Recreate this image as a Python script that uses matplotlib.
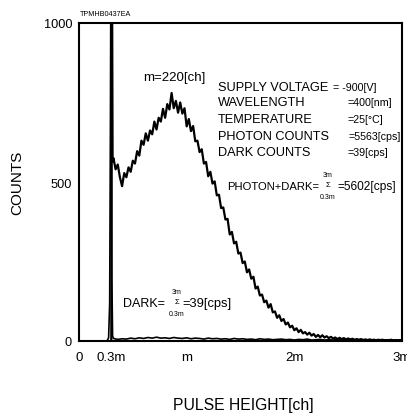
import numpy as np
import matplotlib
matplotlib.use("Agg")
import matplotlib.pyplot as plt
from matplotlib.ticker import FixedLocator

plt.rcParams['font.family'] = ['Liberation Sans', 'DejaVu Sans']

# ---- data (channel in units of m, counts) ----
spike_x = [0.26, 0.275, 0.285, 0.292, 0.298, 0.305, 0.312]
spike_y = [0, 10, 120, 700, 1400, 200, 15]

photon_start_x = [0.300, 0.305, 0.312]
photon_start_y = [0, 1400, 565]

photon_x = np.round(np.arange(0.32, 3.001, 0.02), 2)
photon_y = [
    575, 540, 555, 515, 487, 528, 515, 546, 532, 567,
    558, 597, 583, 630, 617, 653, 630, 662, 650, 690,
    665, 702, 690, 730, 702, 745, 728, 780, 732, 755,
    718, 750, 715, 732, 675, 698, 660, 676, 628, 630,
    594, 603, 558, 563, 518, 532, 495, 502, 458, 460,
    418, 420, 382, 384, 335, 343, 307, 312, 275, 278,
    245, 250, 216, 225, 196, 202, 165, 171, 143, 146,
    122, 127, 105, 116, 90, 93, 73, 81, 63, 69,
    52, 58, 43, 48, 34, 40, 28, 35, 24, 28,
    20, 26, 17, 22, 13, 19, 12, 18, 11, 15,
    9, 13, 8, 11, 6, 10, 6, 9, 5, 8,
    5, 7, 4, 6, 4, 6, 3, 5, 3, 5,
    3, 4, 2, 4, 3, 4, 2, 3, 2, 4,
    2, 3, 2, 3, 2,
]

dark_x = np.round(np.arange(0.32, 3.001, 0.04), 2)
dark_y = [
    8, 5, 7, 6, 9, 7, 10, 8, 11, 9,
    12, 9, 10, 8, 11, 9, 8, 10, 7, 9,
    8, 6, 9, 7, 8, 6, 7, 5, 8, 6,
    7, 5, 6, 4, 7, 5, 6, 4, 5, 6,
    4, 5, 3, 5, 4, 6, 3, 4, 5, 3,
    4, 3, 5, 3, 4, 2, 4, 3, 4, 2,
    3, 4, 2, 3, 4, 2, 3, 3,
]

xtick_pos = [0, 0.3, 1, 2, 3]
xtick_lab = ["0", "0.3m", "m", "2m", "3m"]
ytick_pos = [0, 500, 1000]
ytick_lab = ["0", "500", "1000"]

W, H = 407, 414
fig = plt.figure(figsize=(W / 100, H / 100), dpi=100)
ax = fig.add_axes([79 / W, 1 - 342 / H, 323 / W, 318 / H])

ax.plot(np.r_[spike_x, dark_x], np.r_[spike_y, dark_y], color='black', lw=1.2)
ax.plot(np.r_[photon_start_x, photon_x], np.r_[photon_start_y, photon_y],
        color='black', lw=1.6)

ax.set_xlim(0, 3)
ax.set_ylim(0, 1000)
for s in ax.spines.values():
    s.set_linewidth(1.5)

ax.set_xticks(xtick_pos)
ax.set_xticklabels(xtick_lab)
ax.set_yticks(ytick_pos)
ax.set_yticklabels(ytick_lab)
ax.tick_params(axis='x', which='major', length=0, pad=7, labelsize=9.5)
ax.tick_params(axis='y', which='major', length=0, pad=5, labelsize=9.2)
ax.xaxis.set_minor_locator(FixedLocator([0.3, 1, 2]))
ax.yaxis.set_minor_locator(FixedLocator([500]))
ax.tick_params(axis='x', which='minor', direction='in', length=7, width=1)
ax.tick_params(axis='y', which='minor', direction='out', length=5, width=1)

def px(x, y):
    return x / W, 1 - y / H

fig.text(*px(17, 183), "COUNTS", rotation=90, ha='center', va='center', fontsize=11)
fig.text(*px(243, 406), "PULSE HEIGHT[ch]", ha='center', va='center', fontsize=11.3)
fig.text(*px(80, 15), "TPMHB0437EA", ha='left', va='center', fontsize=5.2)
fig.text(*px(143, 78), "m=220[ch]", ha='left', va='center', fontsize=9.5)

rows = [("SUPPLY VOLTAGE", "= -900[V]", 333, 88),
        ("WAVELENGTH", "=400[nm]", 347, 103),
        ("TEMPERATURE", "=25[°C]", 347, 120),
        ("PHOTON COUNTS", "=5563[cps]", 348, 137),
        ("DARK COUNTS", "=39[cps]", 347, 153)]
for lab, val, vx, vy in rows:
    fig.text(*px(218, vy), lab, ha='left', va='center', fontsize=9.2)
    fig.text(*px(vx, vy), val, ha='left', va='center', fontsize=7.7)

def sigma_text(x0, y0, pre, post, sx, px_post, fs_pre, fs_post):
    fig.text(*px(x0, y0), pre, ha='left', va='center', fontsize=fs_pre)
    fig.text(*px(sx, y0 - 1), "Σ", ha='center', va='center', fontsize=5.5)
    fig.text(*px(sx, y0 - 11), "3m", ha='center', va='center', fontsize=5)
    fig.text(*px(sx, y0 + 11), "0.3m", ha='center', va='center', fontsize=5)
    fig.text(*px(px_post, y0), post, ha='left', va='center', fontsize=fs_post)

sigma_text(227, 187, "PHOTON+DARK=", "=5602[cps]", 328, 337, 8.1, 8.6)
sigma_text(123, 304, "DARK=", "=39[cps]", 177, 182, 9.0, 9.3)

fig.savefig("out.png", dpi=100)
